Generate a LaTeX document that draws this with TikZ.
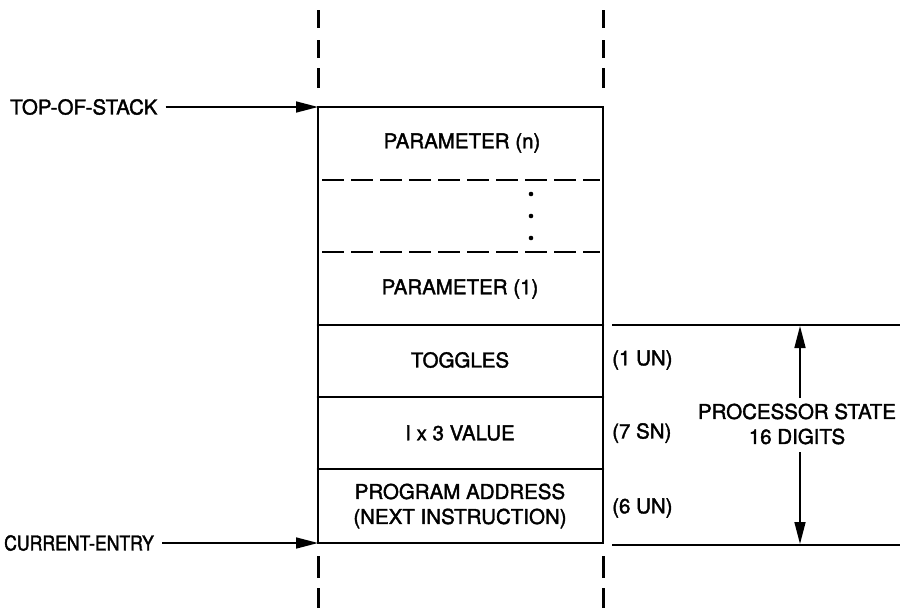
\documentclass[tikz,border=0pt]{standalone}
\usepackage{fontspec}
\setmainfont{TeX Gyre Heros}[FakeBold=1.8]
\usetikzlibrary{arrows.meta}
\begin{document}
\begin{tikzpicture}[x=1pt,y=-1pt,
  txt/.style={font=\fontsize{20.5}{25}\selectfont, inner sep=0pt, align=center},
  narrow/.style={font=\fontsize{20.5}{25}\selectfont\addfontfeature{FakeStretch=0.86}},
  boxline/.style={line width=2.6pt, line cap=round},
  thinline/.style={line width=1.8pt},
  vdash/.style={line width=3pt},
  hdash/.style={line width=2.6pt, dash pattern=on 22pt off 7pt},
  pointer/.style={line width=1.6pt, -{Triangle[length=22pt,width=11pt]}}]
\useasboundingbox (0,0) rectangle (900,608);
% coordinates of stack
\coordinate (tl) at (318,107);
\coordinate (tr) at (603,107);
\coordinate (bl) at (318,543);
\coordinate (br) at (603,543);
% dashed extensions
\foreach \x in {318,603}{
  \draw[vdash] (\x,10) -- (\x,28);
  \draw[vdash] (\x,40) -- (\x,58);
  \draw[vdash] (\x,68) -- (\x,88);
  \draw[vdash] (\x,556) -- (\x,578);
  \draw[vdash] (\x,588) -- (\x,608);
}
% box
\draw[boxline] (tl) -- (tr) -- (br) -- (bl) -- cycle;
\draw[boxline] (318,325) -- (603,325);
\draw[boxline] (318,397) -- (603,397);
\draw[boxline] (318,469) -- (603,469);
\draw[hdash] (322,180) -- (600,180);
\draw[hdash] (322,252) -- (600,252);
\foreach \y in {194,216,238} \fill (531,\y) circle (2.3pt);
% cell texts
\node[txt] (pn) at (462,143) {PARAMETER (n)};
\node[txt] (p1) at (460,289) {PARAMETER (1)};
\node[txt] (tog) at (460,360) {TOGGLES};
\node[txt] (val) at (460,433) {I x 3 VALUE};
\node[txt] (pa) at (460,506) {PROGRAM ADDRESS\\(NEXT INSTRUCTION)};
% side labels
\node[txt, anchor=west] (un1) at (612,360) {(1 UN)};
\node[txt, anchor=west] (sn7) at (612,433) {(7 SN)};
\node[txt, anchor=west] (un6) at (612,508) {(6 UN)};
% pointers
\node[txt, anchor=west] (tos) at (10,107) {TOP-OF-STACK};
\node[txt, narrow, anchor=west] (ce) at (4,543) {CURRENT-ENTRY};
\draw[pointer] (tos.east) ++(8,0) -- (tl);
\draw[pointer] (ce.east) ++(8,0) -- (bl);
% processor state
\coordinate (rt1) at (612,325);
\coordinate (rt2) at (612,545);
\draw[thinline] (rt1) -- (900,325);
\draw[thinline] (rt2) -- (900,545);
\node[txt] (ps) at (797,424) {PROCESSOR STATE\\16 DIGITS};
\coordinate (up) at (800,326);
\coordinate (dn) at (800,544);
\draw[pointer] (800,398) -- (up);
\draw[pointer] (800,452) -- (dn);
\end{tikzpicture}
\end{document}
